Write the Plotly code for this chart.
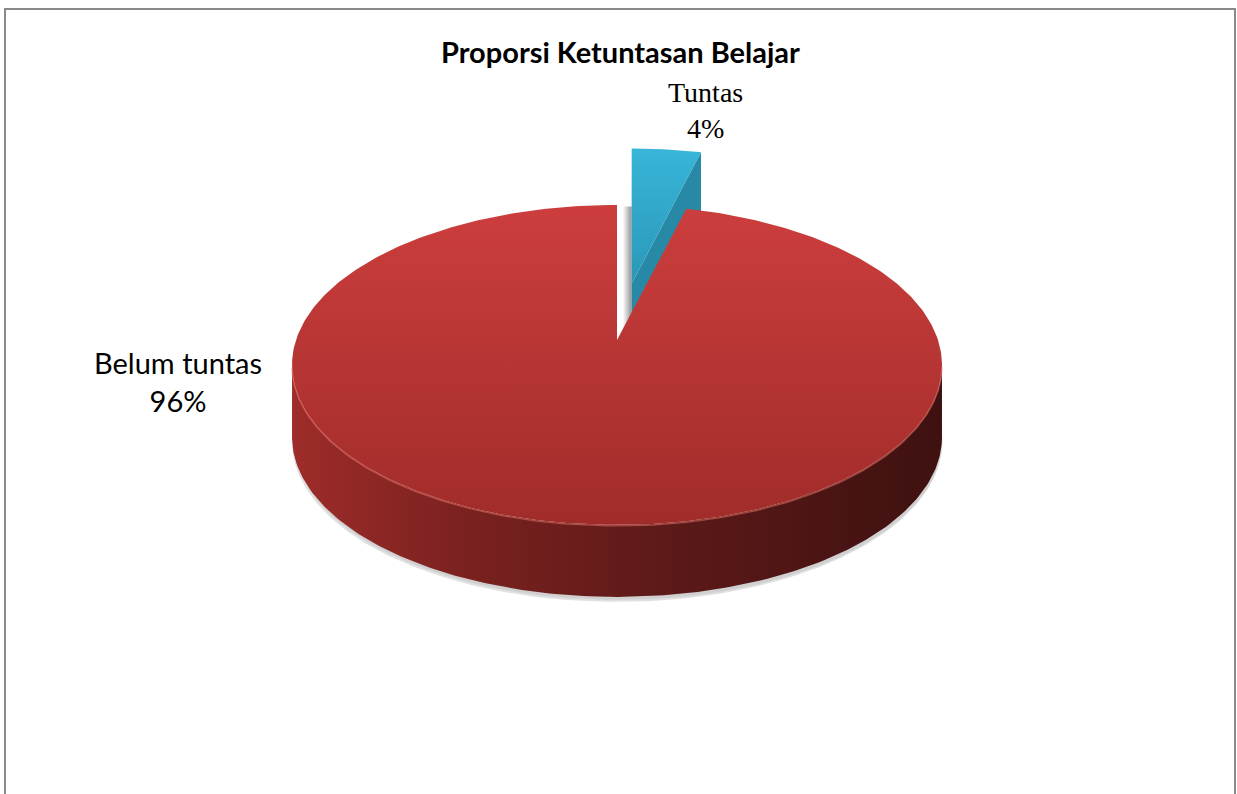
import numpy as np
import plotly.graph_objects as go

# ---- data ----
labels = ["Tuntas", "Belum tuntas"]
values = [4, 96]
explode = [0.52, 0.0]
title_text = "Proporsi Ketuntasan Belajar"

# ---- styling / geometry ----
W, H = 1237, 794
CX, CY0 = 617.0, 340.0      # projected centre of the disc
A, C, K = -103.0, 0.156, 321.0
DEPTH = 72.0
top_cols = [["#38B5D8", "#2A98B8"], ["#CC3E3D", "#A02C2A"]]
face_cols = ["#2789A5", "#7E2321"]
wall_cols = [[[0, "#2789A5"], [1, "#1C6478"]],
             [[0, "#9E2C2A"], [0.25, "#7C2220"], [0.6, "#5A1918"], [1, "#3E1110"]]]


def proj(u, v, z=0.0):
    u = np.asarray(u, float)
    v = np.asarray(v, float)
    w = 1 + C * v
    return CX + K * u / w, (A * v + CY0) / w + z


eye = np.array([0.0, -1.0 / C])
total = float(sum(values))
fr = np.array(values) / total
cum = np.concatenate([[0], np.cumsum(fr)])

traces_back, traces_front = [], []

for i, (lab, val) in enumerate(zip(labels, values)):
    th0 = np.deg2rad(90 - 360 * cum[i])
    th1 = np.deg2rad(90 - 360 * cum[i + 1])
    thm = (th0 + th1) / 2
    # explosion: screen offset of the slice's mid-arc point
    mu, mv = np.cos(thm), np.sin(thm)
    x_a, y_a = proj(mu, mv)
    x_b, y_b = proj(mu * (1 + explode[i]), mv * (1 + explode[i]))
    dx, dy = float(x_b - x_a), float(y_b - y_a)

    def P(u, v, z=0.0):
        x_, y_ = proj(u, v, z)
        return x_ + dx, y_ + dy

    th = np.linspace(th0, th1, 400)
    au, av = np.cos(th), np.sin(th)
    group = traces_back if explode[i] > 0 else traces_front

    if explode[i] > 0:
        # soft shadow in the gap, left of the exploded slice
        xt_, yt_ = P(np.cos(th0), np.sin(th0))
        xc_, yc_ = P(0, 0)
        xs = [float(xt_) - 9, float(xt_), float(xc_), float(xc_) - 9, float(xt_) - 9]
        ys = [float(yt_) + 58, float(yt_) + 58, float(yc_) + 60, float(yc_) + 60, float(yt_) + 58]
        group.append(go.Scatter(x=xs, y=ys, fill="toself", mode="lines", line=dict(width=0),
                                fillgradient=dict(type="horizontal",
                                                  colorscale=[[0, "rgba(120,120,120,0)"],
                                                              [1, "rgba(110,110,110,0.75)"]],
                                                  start=min(xs), stop=max(xs)),
                                hoverinfo="skip"))

    vis = np.sin(th) <= -C
    # radial faces
    for thf, sign in ((th0, 1), (th1, -1)):
        n = sign * np.array([-np.sin(thf), np.cos(thf)])
        p = np.array([0.5 * np.cos(thf), 0.5 * np.sin(thf)])
        if np.dot(eye - p, n) > 0.01:
            fu = [0, np.cos(thf), np.cos(thf), 0, 0]
            fv = [0, np.sin(thf), np.sin(thf), 0, 0]
            fz = [0, 0, DEPTH, DEPTH, 0]
            xs, ys = [], []
            for a_, b_, c_ in zip(fu, fv, fz):
                x_, y_ = P(a_, b_, c_)
                xs.append(float(x_)); ys.append(float(y_))
            group.append(go.Scatter(x=xs, y=ys, fill="toself", mode="lines",
                                    line=dict(width=0), fillcolor=face_cols[i],
                                    hoverinfo="skip"))
    # outer wall
    if vis.any():
        wu, wv = au[vis], av[vis]
        xt, yt = P(wu, wv, 0)
        xb, yb = P(wu, wv, DEPTH)
        xs_, ys_ = P(wu, wv, DEPTH + 5)
        xs2, ys2 = P(wu, wv, DEPTH - 10)
        group.append(go.Scatter(x=np.concatenate([xs_, xs2[::-1]]),
                                y=np.concatenate([ys_, ys2[::-1]]),
                                fill="toself", mode="lines", line=dict(width=0),
                                fillcolor="rgba(0,0,0,0.12)", hoverinfo="skip"))
        group.append(go.Scatter(x=np.concatenate([xs_ + 1, xs2[::-1] + 1]),
                                y=np.concatenate([ys_ - 2, ys2[::-1]]),
                                fill="toself", mode="lines", line=dict(width=0),
                                fillcolor="rgba(0,0,0,0.07)", hoverinfo="skip"))
        group.append(go.Scatter(
            x=np.concatenate([xt, xb[::-1]]), y=np.concatenate([yt, yb[::-1]]),
            fill="toself", mode="lines", line=dict(width=0),
            fillgradient=dict(type="horizontal", colorscale=wall_cols[i],
                              start=float(xt.min()), stop=float(xt.max())),
            hoverinfo="skip"))
    # top surface
    cx_, cy_ = P(0, 0)
    xa, ya = P(au, av)
    xs = np.concatenate([[cx_], xa, [cx_]])
    ys = np.concatenate([[cy_], ya, [cy_]])
    group.append(go.Scatter(
        x=xs, y=ys, fill="toself", mode="lines", line=dict(width=0),
        fillgradient=dict(type="vertical", colorscale=[[0, top_cols[i][0]], [1, top_cols[i][1]]],
                          start=float(ys.min()), stop=float(ys.max())),
        hoverinfo="skip"))
    if vis.any():
        xt, yt = P(au[vis], av[vis], 1.0)
        group.append(go.Scatter(x=xt, y=yt, mode="lines",
                                line=dict(color="rgba(225,110,100,0.55)", width=1.5),
                                hoverinfo="skip"))

fig = go.Figure(traces_back + traces_front)

# labels
pcts = [f"{round(v / total * 100)}%" for v in values]
fig.add_annotation(x=705, y=110, xref="x", yref="y",
                   text=f"{labels[0]}<br>{pcts[0]}", showarrow=False,
                   font=dict(family="Liberation Serif", size=28, color="#000"),
                   align="center")
fig.add_annotation(x=178, y=381, xref="x", yref="y",
                   text=f"{labels[1]}<br>{pcts[1]}", showarrow=False,
                   font=dict(family="Lato", size=29, color="#000"),
                   align="center")
fig.add_annotation(x=620, y=51, xref="x", yref="y",
                   text=f"<b>{title_text}</b>", showarrow=False,
                   font=dict(family="Lato", size=29, color="#000"))

# frame
fig.add_shape(type="rect", x0=5, y0=9, x1=1235, y1=830, xref="x", yref="y",
              line=dict(color="#8A8A8A", width=2), fillcolor="rgba(0,0,0,0)")

fig.update_layout(
    width=W, height=H, margin=dict(l=0, r=0, t=0, b=0),
    paper_bgcolor="white", plot_bgcolor="white", showlegend=False,
    xaxis=dict(range=[0, W], visible=False, fixedrange=True),
    yaxis=dict(range=[H, 0], visible=False, fixedrange=True),
)
fig.write_html("out.html")
